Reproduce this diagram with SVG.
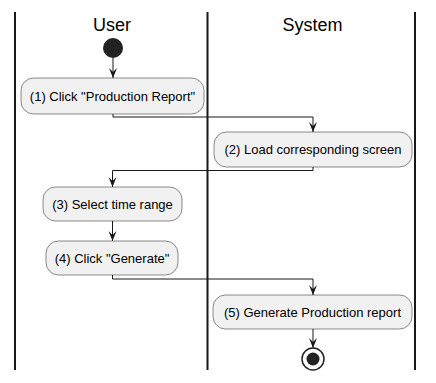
<svg xmlns="http://www.w3.org/2000/svg" width="436" height="383" viewBox="0 0 436 383">
  <style>
    .lane { stroke: #181818; stroke-width: 2; fill: none; }
    .title { font-family: "Liberation Sans", Arial, sans-serif; font-size: 18px; fill: #000000; text-anchor: middle; }
    .act rect { fill: #F1F1F1; stroke: #181818; stroke-width: 0.5; }
    .act text { font-family: "Liberation Sans", Arial, sans-serif; font-size: 13px; fill: #000000; text-anchor: middle; }
    .edge { stroke: #181818; stroke-width: 1; fill: none; }
  </style>
  <defs>
    <marker id="arrow" viewBox="0 0 10 10" refX="10" refY="5" markerWidth="10" markerHeight="10" markerUnits="userSpaceOnUse" orient="auto">
      <polygon points="0,1 10,5 0,9 4,5" fill="#181818"/>
    </marker>
  </defs>

  <rect width="436" height="383" fill="#FFFFFF"/>

  <!-- swimlanes -->
  <g id="lanes">
    <line class="lane" x1="15" y1="12" x2="15" y2="370"/>
    <line class="lane" x1="207.5" y1="12" x2="207.5" y2="370"/>
    <line class="lane" x1="415" y1="12" x2="415" y2="370"/>
    <text class="title" x="112" y="31">User</text>
    <text class="title" x="312.5" y="31">System</text>
  </g>

  <!-- control flow -->
  <g id="connectors">
    <path class="edge" d="M113,58 V78" marker-end="url(#arrow)"/>
    <path class="edge" d="M113,114 V117 H313 V132" marker-end="url(#arrow)"/>
    <path class="edge" d="M313,167 V170.5 H112.5 V187" marker-end="url(#arrow)"/>
    <path class="edge" d="M112.5,221 V241" marker-end="url(#arrow)"/>
    <path class="edge" d="M112.5,275 V279 H313 V295" marker-end="url(#arrow)"/>
    <path class="edge" d="M313,329 V348" marker-end="url(#arrow)"/>
  </g>

  <g id="start">
    <circle cx="113" cy="48" r="10" fill="#222222"/>
  </g>

  <g id="step1" class="act">
    <rect x="21" y="78" width="183" height="36" rx="12.5" ry="12.5"/>
    <text x="112.5" y="100.5">(1) Click "Production Report"</text>
  </g>

  <g id="step2" class="act">
    <rect x="214" y="132" width="198" height="35" rx="12.5" ry="12.5"/>
    <text x="313" y="154">(2) Load corresponding screen</text>
  </g>

  <g id="step3" class="act">
    <rect x="43" y="187" width="139" height="34" rx="12.5" ry="12.5"/>
    <text x="112.5" y="208.5">(3) Select time range</text>
  </g>

  <g id="step4" class="act">
    <rect x="46" y="241" width="132" height="34" rx="12.5" ry="12.5"/>
    <text x="112" y="262.5">(4) Click "Generate"</text>
  </g>

  <g id="step5" class="act">
    <rect x="213" y="295" width="199" height="34" rx="12.5" ry="12.5"/>
    <text x="312.5" y="316.5">(5) Generate Production report</text>
  </g>

  <g id="end">
    <circle cx="313" cy="359" r="11" fill="none" stroke="#222222" stroke-width="1.5"/>
    <circle cx="313" cy="359" r="6.5" fill="#222222"/>
  </g>
</svg>
